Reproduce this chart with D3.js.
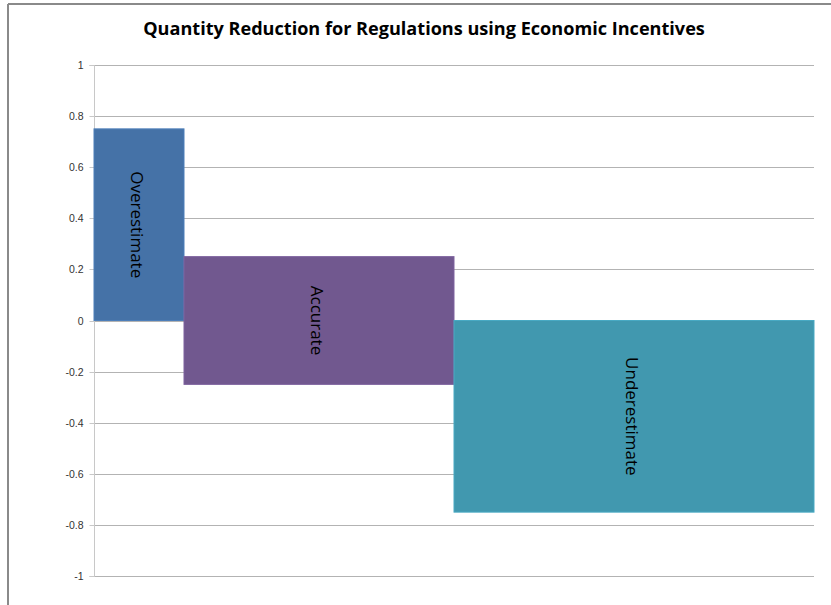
<!DOCTYPE html>
<html><head><meta charset="utf-8">
<script src="https://cdn.jsdelivr.net/npm/d3@7"></script>
<style>body{margin:0;background:#fff}svg{display:block}</style>
</head><body>
<script>
const categories = ["Overestimate", "Accurate", "Underestimate"];
const xStart = [0, 1, 4];
const xEnd = [1, 4, 8];
const lowValues = [0, -0.25, -0.75];
const highValues = [0.75, 0.25, 0];
const yTicks = [1, 0.8, 0.6, 0.4, 0.2, 0, -0.2, -0.4, -0.6, -0.8, -1];
const colors = ["#4572a7", "#71588f", "#4198af"];
const title = "Quantity Reduction for Regulations using Economic Incentives";

const W = 831, H = 605;
const svg = d3.select("body").append("svg").attr("width", W).attr("height", H);
svg.append("rect").attr("x", 0).attr("y", 0).attr("width", W).attr("height", H).attr("fill", "#fff");
// frame
svg.append("line").attr("x1", 8).attr("x2", W).attr("y1", 4).attr("y2", 4).attr("stroke", "#8a8a8a").attr("stroke-width", 2);
svg.append("line").attr("x1", 8).attr("x2", 8).attr("y1", 4).attr("y2", H).attr("stroke", "#8a8a8a").attr("stroke-width", 2);

const x = d3.scaleLinear().domain([0, 8]).range([94, 814]);
const y = d3.scaleLinear().domain([-1, 1]).range([576, 65]);

svg.append("text").attr("x", 424).attr("y", 35).attr("text-anchor", "middle")
  .attr("font-family", "'Open Sans', 'Liberation Sans', sans-serif").attr("font-weight", "bold")
  .attr("font-size", 18.1).attr("fill", "#000").text(title);

// gridlines
svg.append("g").selectAll("line").data(yTicks).join("line")
  .attr("x1", x(0)).attr("x2", x(8)).attr("y1", d => Math.round(y(d)) + 0.5).attr("y2", d => Math.round(y(d)) + 0.5)
  .attr("stroke", "#b3b3b3").attr("stroke-width", 1);

// axis
const axis = d3.axisLeft(y).tickValues(yTicks).tickSize(5).tickPadding(6).tickFormat(d => d === 0 ? "0" : String(d));
const ag = svg.append("g").attr("transform", `translate(${x(0) + 0.5},0.5)`).call(axis);
ag.select(".domain").attr("stroke", "#c8c8c8").attr("d", `M-5,${Math.round(y(1))}H0V${Math.round(y(-1))}H-5`);
ag.selectAll(".tick line").attr("stroke", "#c8c8c8");
ag.selectAll(".tick").attr("transform", d => `translate(0,${Math.round(y(d))})`);
ag.selectAll("text").attr("font-family", "'Liberation Sans', Arial, sans-serif").attr("font-size", 10.5).attr("fill", "#333");

// bars
const idx = d3.range(categories.length);
svg.append("g").selectAll("rect").data(idx).join("rect")
  .attr("x", i => x(xStart[i])).attr("width", i => x(xEnd[i]) - x(xStart[i]))
  .attr("y", i => y(highValues[i])).attr("height", i => y(lowValues[i]) - y(highValues[i]))
  .attr("fill", i => colors[i]).attr("stroke", i => d3.color(colors[i]).brighter(0.3)).attr("stroke-width", 1);

// labels
svg.append("g").selectAll("text").data(idx).join("text")
  .attr("transform", i => `translate(${(x(xStart[i]) + x(xEnd[i])) / 2 - 2},${(y(highValues[i]) + y(lowValues[i])) / 2}) rotate(90)`)
  .attr("text-anchor", "middle").attr("dy", "0.35em")
  .attr("font-family", "'Open Sans', 'Liberation Sans', sans-serif").attr("font-size", 17).attr("fill", "#000")
  .text(i => categories[i]);
</script>
</body></html>
